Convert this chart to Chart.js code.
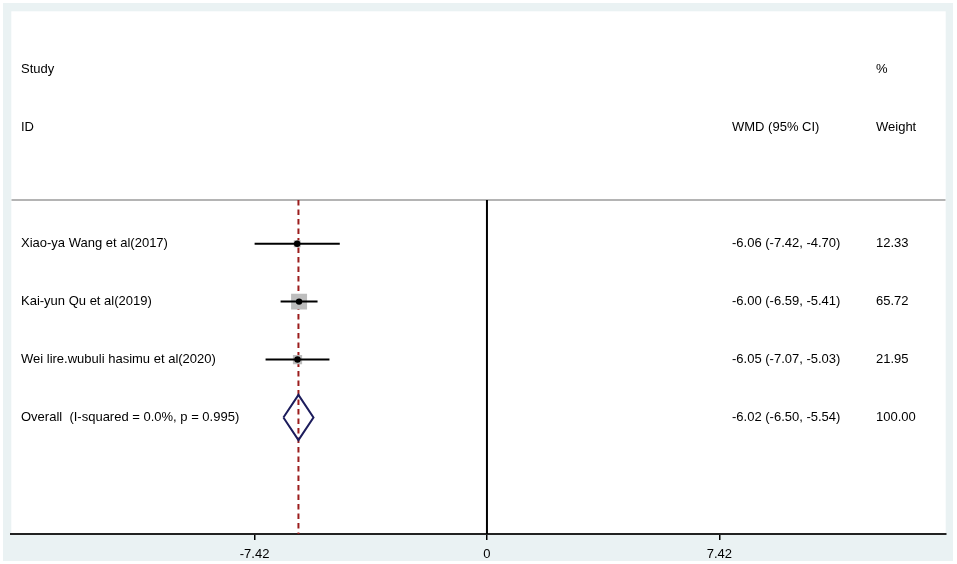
<!DOCTYPE html>
<html>
<head>
<meta charset="utf-8">
<script src="https://cdn.jsdelivr.net/npm/chart.js@4/dist/chart.umd.min.js"></script>
<style>
html,body{margin:0;padding:0;background:#fff;}
#wrap{width:957px;height:564px;position:relative;}
</style>
</head>
<body>
<div id="wrap"><canvas id="c" width="957" height="564"></canvas></div>
<script>
// ---- data ----
const studies = ["Xiao-ya Wang et al(2017)", "Kai-yun Qu et al(2019)", "Wei lire.wubuli hasimu et al(2020)"];
const estimates = [-6.06, -6.00, -6.05];
const lower = [-7.42, -6.59, -7.07];
const upper = [-4.70, -5.41, -5.03];
const weights = [12.33, 65.72, 21.95];
const overallLabel = "Overall  (I-squared = 0.0%, p = 0.995)";
const overall = -6.02;
const overallLower = -6.50;
const overallUpper = -5.54;
const overallWeight = 100.00;
const xTicks = [-7.42, 0, 7.42];
const headerLeft = ["Study", "ID"];
const headerMid = ["", "WMD (95% CI)"];
const headerRight = ["%", "Weight"];

// ---- layout constants ----
const FONT = "13px 'Liberation Sans', Arial, sans-serif";
const rows = studies.map((s, i) => i + 1);
const overallRow = studies.length + 1;
const sepY = 0.245;
const yMin = -3.01, yMax = 6.01;

const datasets = [];
// separator line (full width)
datasets.push({type:'line', data:[{x:-15.19,y:sepY},{x:14.65,y:sepY}], borderColor:'#b4b4b4', borderWidth:2, pointRadius:0, order:10});
// null line at 0
datasets.push({type:'line', data:[{x:0,y:sepY},{x:0,y:yMax}], borderColor:'#000', borderWidth:2, pointRadius:0, order:9});
// overall dashed line
datasets.push({type:'line', data:[{x:overall,y:sepY},{x:overall,y:yMax}], borderColor:'#9b1c1c', borderWidth:2, borderDash:[5.5,4], pointRadius:0, order:8});
// boxes
const maxW = Math.max(...weights);
datasets.push({type:'scatter', data:estimates.map((e,i)=>({x:e,y:rows[i]})), pointStyle:'rect',
  pointRadius: weights.map(w => 11.3*Math.sqrt(w/maxW)), backgroundColor:'#bdbdbd', borderColor:'#bdbdbd', borderWidth:0, order:7});
// CI lines
estimates.forEach((e,i)=>{
  datasets.push({type:'line', data:[{x:lower[i],y:rows[i]},{x:upper[i],y:rows[i]}], borderColor:'#000', borderWidth:2, pointRadius:0, order:6});
});
// point estimates
datasets.push({type:'scatter', data:estimates.map((e,i)=>({x:e,y:rows[i]})), pointStyle:'circle', pointRadius:3.2, backgroundColor:'#000', borderColor:'#000', borderWidth:0, order:5});
// diamond
const dh = 0.39;
datasets.push({type:'line', data:[
  {x:overallLower,y:overallRow},{x:overall,y:overallRow-dh},{x:overallUpper,y:overallRow},{x:overall,y:overallRow+dh},{x:overallLower,y:overallRow}
], borderColor:'#1c1c5c', borderWidth:2, pointRadius:0, fill:false, tension:0, order:4});

const bgPlugin = {
  id:'bg',
  beforeDraw(chart){
    const {ctx, chartArea:a} = chart;
    ctx.save();
    ctx.fillStyle='#fff'; ctx.fillRect(0,0,chart.width,chart.height);
    ctx.fillStyle='#eaf2f3'; ctx.fillRect(3,3,950,558);
    ctx.fillStyle='#fff'; ctx.fillRect(a.left,a.top,a.right-a.left,a.bottom-a.top);
    ctx.restore();
  }
};
const textPlugin = {
  id:'texts',
  afterDatasetsDraw(chart){
    const {ctx} = chart;
    const ys = chart.scales.y;
    const colL = 21, colM = 732, colR = 876;
    ctx.save();
    ctx.font = FONT; ctx.fillStyle = '#000'; ctx.textBaseline = 'middle'; ctx.textAlign='left';
    const hdrRows = [-2, -1];
    hdrRows.forEach((r,i)=>{
      const py = ys.getPixelForValue(r);
      ctx.fillText(headerLeft[i], colL, py);
      if (headerMid[i]) ctx.fillText(headerMid[i], colM, py);
      ctx.fillText(headerRight[i], colR, py);
    });
    const f = v => v.toFixed(2);
    studies.forEach((s,i)=>{
      const py = ys.getPixelForValue(rows[i]);
      ctx.fillText(s, colL, py);
      ctx.fillText(f(estimates[i])+" ("+f(lower[i])+", "+f(upper[i])+")", colM, py);
      ctx.fillText(f(weights[i]), colR, py);
    });
    const py = ys.getPixelForValue(overallRow);
    ctx.fillText(overallLabel, colL, py);
    ctx.fillText(f(overall)+" ("+f(overallLower)+", "+f(overallUpper)+")", colM, py);
    ctx.fillText(f(overallWeight), colR, py);
    ctx.restore();
  }
};

new Chart(document.getElementById('c'), {
  data:{datasets},
  options:{
    responsive:false, animation:false, devicePixelRatio:1,
    layout:{padding:{left:11, right:9, top:8, bottom:3}},
    plugins:{legend:{display:false}, tooltip:{enabled:false}},
    scales:{
      x:{type:'linear', min:-15.19, max:14.65,
        afterBuildTicks(ax){ ax.ticks = xTicks.map(v=>({value:v})); },
        afterFit(ax){ ax.height = 27; },
        ticks:{autoSkip:false, maxRotation:0, color:'#000', font:{family:"'Liberation Sans', Arial, sans-serif", size:13, lineHeight:1}, padding:8,
          callback:(v)=> v===0 ? "0" : String(v)},
        grid:{drawOnChartArea:false, drawTicks:true, tickLength:6, color:'#000', lineWidth:1.5},
        border:{display:true, color:'#222', width:2}
      },
      y:{type:'linear', reverse:true, min:yMin, max:yMax, display:false}
    }
  },
  plugins:[bgPlugin, textPlugin]
});
</script>
</body>
</html>
